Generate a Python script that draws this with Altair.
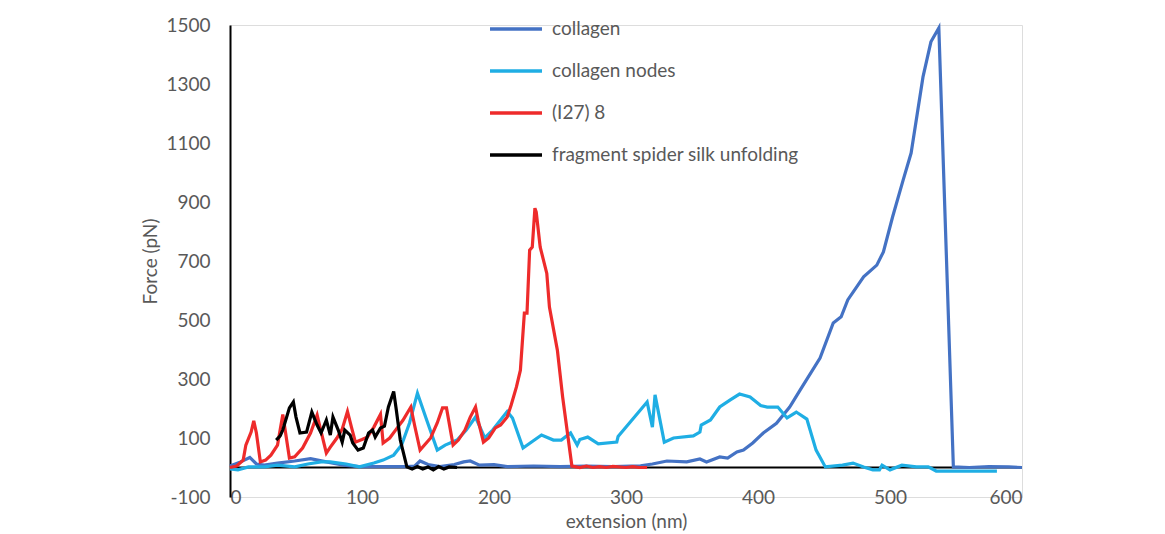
import altair as alt
import pandas as pd

series_names = ["collagen", "collagen nodes", "(I27) 8", "fragment spider silk unfolding"]
series_colors = ["#4472C4", "#1FAEE4", "#EE2B2B", "#000000"]

collagen_x = [0, 8, 15, 20, 26, 36, 49, 61, 73, 86, 98, 119, 134, 140, 144, 150, 159, 170, 177, 182, 189,
              200, 210, 230, 250, 270, 290, 311, 320, 331, 346, 356, 361, 371, 377, 384, 389, 396, 404,
              414, 424, 432, 447, 457, 463, 468, 480, 490, 495, 502, 510, 516, 525, 531, 537, 548, 560,
              575, 590, 600]
collagen_y = [5, 19, 34, 12, 8, 15, 22, 30, 19, 8, 3, 3, 3, 5, 22, 10, 3, 10, 19, 22, 8,
              10, 3, 5, 3, 5, 3, 6, 12, 22, 19, 29, 19, 36, 32, 53, 59, 83, 117,
              150, 205, 263, 371, 490, 511, 568, 646, 686, 731, 850, 975, 1066, 1324, 1443, 1490, 2, 0,
              3, 2, 0]

nodes_x = [0, 6, 14, 26, 36, 49, 59, 69, 76, 88, 98, 109, 116, 124, 130, 136, 142, 149, 157, 163, 172,
           179, 186, 193, 199, 210, 214, 222, 236, 245, 251, 258, 263, 265, 271, 279, 293, 294, 316,
           320, 322, 329, 336, 351, 356, 357, 364, 371, 379, 386, 394, 402, 407, 415, 422, 429, 437,
           444, 451, 464, 472, 480, 487, 492, 494, 500, 509, 520, 529, 535, 581]
nodes_y = [-5, -8, 2, 2, 8, 2, 12, 19, 19, 12, 2, 15, 25, 42, 76, 151, 252, 161, 59, 76, 93,
           127, 171, 100, 127, 190, 168, 66, 110, 93, 93, 117, 76, 95, 103, 80, 86, 105, 222,
           137, 246, 86, 100, 107, 120, 144, 161, 205, 229, 249, 239, 210, 205, 205, 168, 188, 164,
           59, 2, 8, 15, 2, -8, -8, 8, -8, 8, 2, 2, -12, -12]

i27_x = [0, 5, 10, 12, 16, 18, 20, 23, 27, 31, 36, 40, 41, 45, 49, 55, 61, 66, 68, 73, 76, 81, 85, 89,
         92, 95, 100, 104, 109, 114, 116, 121, 126, 131, 137, 140, 144, 152, 157, 161, 164, 169, 173,
         178, 182, 186, 188, 192, 196, 201, 205, 210, 213, 217, 220, 223, 225, 227, 229, 231, 232,
         235, 240, 242, 248, 252, 259, 265, 270, 275, 280, 285, 290, 300, 305, 310, 316]
i27_y = [0, 5, 25, 76, 120, 158, 117, 19, 25, 42, 76, 180, 150, 32, 36, 66, 117, 178, 140, 49, 69, 100,
         130, 190, 137, 86, 95, 103, 137, 180, 83, 100, 130, 160, 205, 140, 59, 100, 151, 202, 202, 76,
         93, 127, 171, 205, 160, 86, 100, 134, 144, 171, 212, 273, 330, 523, 523, 737, 747, 879, 866,
         747, 658, 544, 398, 239, 5, 0, 5, 0, 3, 0, 4, 0, 3, 0, 0]

silk_x = [35, 38, 40, 45, 48, 50, 53, 58, 62, 66, 69, 73, 76, 78, 82, 85, 87, 91, 93, 97, 101, 105,
          108, 110, 114, 117, 120, 124, 126, 129, 134, 138, 142, 146, 150, 154, 158, 162, 166, 172]
silk_y = [93, 107, 127, 202, 222, 171, 117, 120, 188, 144, 117, 161, 110, 171, 127, 86, 127, 110, 83,
          59, 66, 117, 127, 103, 134, 140, 205, 258, 195, 93, 2, -5, 3, -5, 2, -8, 3, -5, 2, 0]

x_ticks = [0, 100, 200, 300, 400, 500, 600]
y_ticks = [-100, 100, 300, 500, 700, 900, 1100, 1300, 1500]

rows = []
for name, xs, ys in [(series_names[0], collagen_x, collagen_y),
                     (series_names[1], nodes_x, nodes_y),
                     (series_names[2], i27_x, i27_y),
                     (series_names[3], silk_x, silk_y)]:
    for i, (xv, yv) in enumerate(zip(xs, ys)):
        rows.append({"series": name, "ext": xv, "force": yv, "order": i})
df = pd.DataFrame(rows)

FONT = "Lato"
GRAY = "#595959"

x_enc = alt.X("ext:Q", scale=alt.Scale(domain=[0, 600], nice=False),
              axis=alt.Axis(title="extension (nm)", values=x_ticks, grid=False, domain=False,
                            ticks=False, labelPadding=0, labelBaseline="middle",
                            labelExpr="datum.value + ''",
                            labelFontSize=19, labelColor=GRAY, labelFont=FONT,
                            titleFontSize=19, titleColor=GRAY, titleFont=FONT,
                            titleFontWeight="normal", titleY=24, titleBaseline="middle"))
y_enc = alt.Y("force:Q", scale=alt.Scale(domain=[-100, 1500], nice=False),
              axis=alt.Axis(title="Force (pN)", values=y_ticks, grid=False, domain=True,
                            domainColor="#000000", domainWidth=2, ticks=False, labelPadding=20,
                            labelExpr="datum.value + ''",
                            labelFontSize=19, labelColor=GRAY, labelFont=FONT,
                            titleFontSize=19, titleColor=GRAY, titleFont=FONT,
                            titleFontWeight="normal", titleAngle=270, titleX=-80, titleY=236,
                            titleAlign="center", titleBaseline="middle"))
color_enc = alt.Color("series:N",
                      scale=alt.Scale(domain=series_names, range=series_colors),
                      legend=alt.Legend(title=None, orient="none", legendX=258, legendY=-24,
                                        symbolType="stroke", symbolSize=2704, symbolStrokeWidth=3.5,
                                        labelFontSize=19, labelColor=GRAY, labelFont=FONT,
                                        labelLimit=0, labelOffset=8, rowPadding=4))

zero_rule = alt.Chart(pd.DataFrame({"z": [0]})).mark_rule(color="#000000", strokeWidth=2).encode(
    y=alt.Y("z:Q", scale=alt.Scale(domain=[-100, 1500], nice=False)))

layers = [zero_rule]
for name in series_names:
    layers.append(
        alt.Chart(df).transform_filter(alt.datum.series == name).mark_line(strokeWidth=3.2).encode(
            x=x_enc, y=y_enc, color=color_enc, order="order:Q")
    )

chart = alt.layer(*layers).properties(
    width=792, height=472,
    autosize=alt.AutoSizeParams(type="none"),
    padding={"left": 222, "top": 17, "right": 20, "bottom": 36},
).configure_view(stroke=None).configure(background="white")

chart.save("out.html", embed_options={"renderer": "svg", "actions": False})
